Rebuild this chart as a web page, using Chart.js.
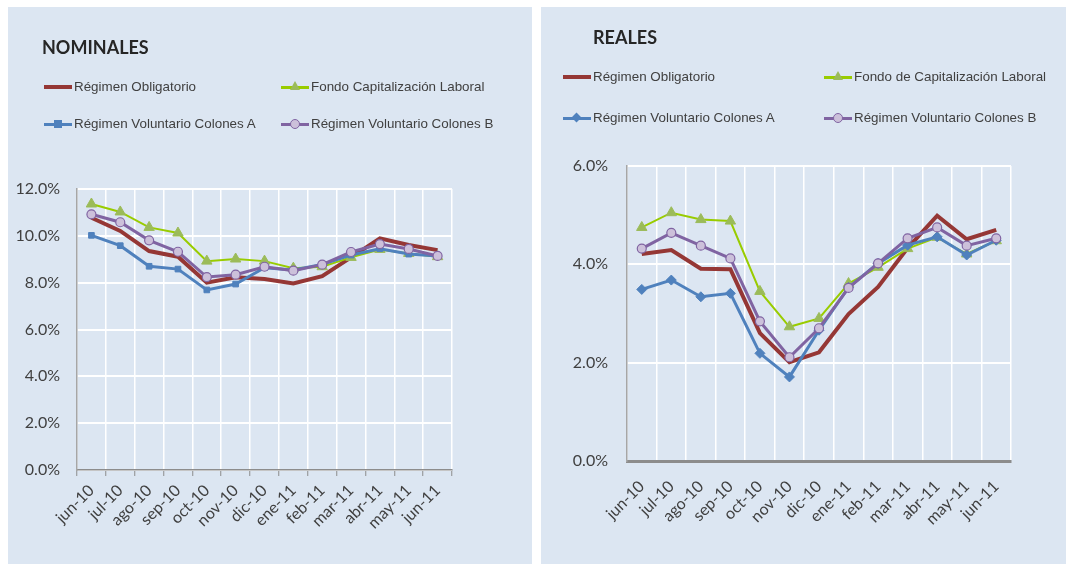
<!DOCTYPE html>
<html>
<head>
<meta charset="utf-8">
<script src="https://cdn.jsdelivr.net/npm/chart.js@4.4.0/dist/chart.umd.min.js"></script>
<style>
  html, body { margin:0; padding:0; background:#fff; }
  body { width:1066px; height:564px; position:relative; overflow:hidden; }
  .panel { position:absolute; background:#dce6f2; }
  .panel canvas { position:absolute; left:0; top:0; }
  .title { position:absolute; font-family:Lato, "Open Sans", sans-serif; font-weight:bold; font-size:18px; color:#262626; line-height:1; }
  .leg { position:absolute; font-family:"Liberation Sans", Arial, sans-serif; font-size:13.4px; color:#404040; line-height:1; white-space:nowrap; }
  .leg .ln { position:absolute; left:0; width:28px; }
  .leg .tx { position:absolute; left:30px; top:-7px; }
  .mk { position:absolute; }
</style>
</head>
<body>
<div class="panel" id="p1" style="left:8px;top:7px;width:524px;height:557px;">
  <canvas id="c1" width="524" height="557"></canvas>
</div>
<div class="panel" id="p2" style="left:541px;top:7px;width:525px;height:557px;">
  <canvas id="c2" width="525" height="557"></canvas>
</div>
<div id="overlay"></div>
<script>
// ---------- DATA ----------
const categories = ['jun-10','jul-10','ago-10','sep-10','oct-10','nov-10','dic-10','ene-11','feb-11','mar-11','abr-11','may-11','jun-11'];

const nomTitle = 'NOMINALES';
const nomLabels = ['Régimen Obligatorio','Fondo Capitalización Laboral','Régimen Voluntario Colones A','Régimen Voluntario Colones B'];
const nomObligatorio = [10.77,10.21,9.35,9.11,8.00,8.23,8.16,7.97,8.28,9.08,9.89,9.61,9.39];
const nomFCL         = [11.36,11.02,10.36,10.12,8.92,9.01,8.92,8.62,8.68,9.08,9.42,9.25,9.11];
const nomVolA        = [10.02,9.58,8.70,8.58,7.69,7.94,8.64,8.54,8.78,9.18,9.45,9.22,9.14];
const nomVolB        = [10.92,10.58,9.81,9.32,8.24,8.34,8.68,8.51,8.77,9.31,9.65,9.44,9.14];
const nomTicks = [0,2,4,6,8,10,12];

const realTitle = 'REALES';
const realLabels = ['Régimen Obligatorio','Fondo de Capitalización Laboral','Régimen Voluntario Colones A','Régimen Voluntario Colones B'];
const realObligatorio = [4.21,4.29,3.91,3.90,2.60,2.01,2.21,2.99,3.54,4.33,4.99,4.51,4.70];
const realFCL         = [4.75,5.05,4.91,4.88,3.45,2.73,2.90,3.61,3.94,4.32,4.55,4.21,4.48];
const realVolA        = [3.49,3.68,3.34,3.41,2.19,1.71,2.66,3.53,4.02,4.39,4.56,4.19,4.49];
const realVolB        = [4.32,4.64,4.38,4.12,2.84,2.11,2.70,3.52,4.02,4.53,4.75,4.38,4.53];
const realTicks = [0,2,4,6];

// ---------- STYLE ----------
const RED = '#953735', GREEN_L = '#99cc00', GREEN_M = '#9bbb59', BLUE = '#4f81bd', PURPLE = '#8064a2', PURPLE_F = '#ccc0da';
const TICK_FONT = { family: 'Lato, "Open Sans", sans-serif', size: 16 };

function makeChart(id, values, labels, ticks, cfg) {
  const [ob, fcl, va, vb] = values;
  const datasets = [
    { label: labels[0], data: ob, borderColor: RED, borderWidth: 4, pointRadius: 0, order: 3 },
    { label: labels[1], data: fcl, borderColor: GREEN_L, borderWidth: 2, pointStyle: 'triangle', pointRadius: 6,
      pointBackgroundColor: GREEN_M, pointBorderColor: GREEN_M, pointBorderWidth: 1, order: 2 },
    { label: labels[2], data: va, borderColor: BLUE, borderWidth: 3, pointStyle: cfg.aStyle, pointRadius: cfg.aRadius,
      pointBackgroundColor: BLUE, pointBorderColor: BLUE, pointBorderWidth: 1, order: 1 },
    { label: labels[3], data: vb, borderColor: PURPLE, borderWidth: 3, pointStyle: 'circle', pointRadius: 4.5,
      pointBackgroundColor: PURPLE_F, pointBorderColor: PURPLE, pointBorderWidth: 1.2, order: 0 }
  ];
  datasets.forEach(d => { d.tension = 0; d.fill = false; });
  const maxV = ticks[ticks.length - 1];
  return new Chart(document.getElementById(id), {
    type: 'line',
    data: { labels: categories, datasets },
    options: {
      responsive: false,
      animation: false,
      events: [],
      layout: { padding: { left: 0, top: cfg.top, right: cfg.right, bottom: 0 } },
      plugins: { legend: { display: false }, tooltip: { enabled: false }, title: { display: false } },
      scales: {
        x: {
          offset: true,
          grid: { offset: true, color: '#ffffff', lineWidth: 1.5, drawTicks: cfg.xTicks, tickLength: 6, tickColor: '#8c8c8c', tickWidth: 1 },
          border: { color: '#8c8c8c', width: cfg.xBorder },
          ticks: { font: TICK_FONT, color: '#404040', minRotation: 45, maxRotation: 45, padding: cfg.xPad, autoSkip: false },
          afterFit: s => { s.height = cfg.xHeight; }
        },
        y: {
          min: ticks[0], max: maxV,
          afterBuildTicks: s => { s.ticks = ticks.map(v => ({ value: v })); },
          grid: { color: '#ffffff', lineWidth: 2, drawTicks: false },
          border: { color: '#a6a6a6', width: 1.5 },
          ticks: { font: TICK_FONT, color: '#404040', padding: cfg.yPad, callback: v => v.toFixed(1) + '%' },
          afterFit: s => { s.width = cfg.yWidth; }
        }
      }
    }
  });
}

makeChart('c1', [nomObligatorio, nomFCL, nomVolA, nomVolB], nomLabels, nomTicks,
  { top: 182, right: 80, xHeight: 94, yWidth: 69, yPad: 17, xPad: 5, xTicks: true, xBorder: 1.5, aStyle: 'rect', aRadius: 4 });
makeChart('c2', [realObligatorio, realFCL, realVolA, realVolB], realLabels, realTicks,
  { top: 159, right: 55, xHeight: 103, yWidth: 86, yPad: 19, xPad: 16, xTicks: false, xBorder: 3, aStyle: 'rectRot', aRadius: 5 });

// ---------- TITLES & LEGENDS (HTML) ----------
const overlay = document.getElementById('overlay');
function addTitle(text, x, y) {
  const d = document.createElement('div');
  d.className = 'title'; d.textContent = text;
  d.style.left = x + 'px'; d.style.top = y + 'px';
  overlay.appendChild(d);
}
function marker(kind) {
  const m = document.createElement('div'); m.className = 'mk';
  if (kind === 'triangle') {
    Object.assign(m.style, { left:'9px', top:'-6px', width:0, height:0, borderLeft:'5px solid transparent', borderRight:'5px solid transparent', borderBottom:'9px solid ' + GREEN_M });
  } else if (kind === 'rect') {
    Object.assign(m.style, { left:'10px', top:'-4px', width:'8px', height:'8px', background: BLUE });
  } else if (kind === 'rectRot') {
    Object.assign(m.style, { left:'10px', top:'-4px', width:'7px', height:'7px', background: BLUE, transform:'rotate(45deg)' });
  } else if (kind === 'circle') {
    Object.assign(m.style, { left:'9px', top:'-5px', width:'8px', height:'8px', borderRadius:'50%', background: PURPLE_F, border:'1px solid ' + PURPLE });
  }
  return m;
}
function addLegend(text, x, y, color, width, kind) {
  const d = document.createElement('div'); d.className = 'leg';
  d.style.left = x + 'px'; d.style.top = y + 'px';
  const ln = document.createElement('div'); ln.className = 'ln';
  ln.style.top = (-width / 2) + 'px'; ln.style.height = width + 'px'; ln.style.background = color;
  d.appendChild(ln);
  if (kind) d.appendChild(marker(kind));
  const t = document.createElement('div'); t.className = 'tx'; t.textContent = text;
  d.appendChild(t);
  overlay.appendChild(d);
}
addTitle(nomTitle, 42, 38);
addLegend(nomLabels[0], 44, 87, RED, 4, null);
addLegend(nomLabels[1], 281, 87, GREEN_L, 3, 'triangle');
addLegend(nomLabels[2], 44, 124, BLUE, 3, 'rect');
addLegend(nomLabels[3], 281, 124, PURPLE, 3, 'circle');

addTitle(realTitle, 593, 28);
addLegend(realLabels[0], 563, 77, RED, 4, null);
addLegend(realLabels[1], 824, 77, GREEN_L, 3, 'triangle');
addLegend(realLabels[2], 563, 118, BLUE, 3, 'rectRot');
addLegend(realLabels[3], 824, 118, PURPLE, 3, 'circle');
</script>
</body>
</html>
